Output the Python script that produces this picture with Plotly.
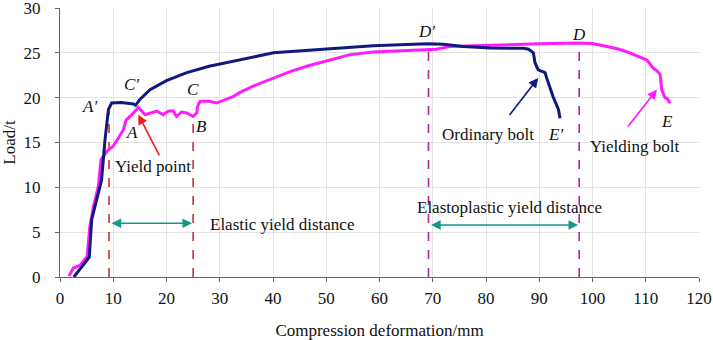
import plotly.graph_objects as go

# Ordinary bolt (navy)
ord_x = [2.6, 4.7, 5.5, 5.95, 6.9, 7.8, 8.45, 9.1, 9.7, 11.5, 13.8, 14.2, 15.0, 16.9, 20.0, 23.8, 28.0, 33.8, 35.7, 40.1, 49.4, 58.8, 68.9, 72.0, 75.7, 80.8, 87.0, 88.0, 88.9, 89.2, 89.8, 91.1, 91.4, 92.6, 93.6, 93.9]
ord_y = [0.0, 1.5, 2.2, 6.4, 8.6, 10.8, 15.3, 18.7, 19.4, 19.45, 19.3, 19.15, 19.8, 20.9, 21.9, 22.8, 23.5, 24.2, 24.5, 25.0, 25.4, 25.8, 26.0, 25.95, 25.7, 25.55, 25.5, 25.4, 25.0, 23.9, 23.1, 22.8, 22.2, 20.1, 18.7, 17.7]

# Yielding bolt (magenta)
yld_x = [1.7, 2.5, 3.75, 5.1, 5.6, 6.3, 7.2, 7.7, 8.8, 10.0, 11.9, 12.4, 13.5, 14.7, 16.0, 17.0, 18.2, 19.4, 20.4, 21.3, 21.9, 22.8, 23.8, 25.0, 25.7, 25.8, 26.3, 28.0, 29.4, 32.5, 33.8, 36.3, 40.1, 43.2, 46.3, 50.7, 54.5, 58.8, 65.1, 70.7, 73.2, 82.6, 85.1, 90.0, 97.3, 100.0, 102.7, 105.0, 107.0, 110.2, 111.4, 112.1, 112.7, 113.0, 113.6, 114.0, 114.6]
yld_y = [0.1, 1.0, 1.3, 2.3, 5.6, 7.9, 10.1, 13.1, 14.0, 14.6, 16.4, 17.5, 18.1, 18.9, 18.1, 18.3, 18.5, 18.1, 18.5, 18.5, 17.9, 18.4, 18.3, 17.9, 18.3, 19.0, 19.6, 19.6, 19.4, 20.1, 20.6, 21.3, 22.2, 22.9, 23.5, 24.2, 24.8, 25.1, 25.25, 25.4, 25.7, 25.9, 25.9, 26.0, 26.1, 26.05, 25.7, 25.4, 25.0, 24.2, 23.3, 23.0, 22.6, 20.9, 20.0, 19.9, 19.4]

# Reference lines
elastic_x = [9.2, 25.0]
elastic_top = [18.7, 18.1]
plastic_x = [69.2, 97.5]
plastic_top = [26.0, 26.1]

x_ticks = [0, 10, 20, 30, 40, 50, 60, 70, 80, 90, 100, 110, 120]
y_ticks = [0, 5, 10, 15, 20, 25, 30]

FONT = "Liberation Serif, Times New Roman, serif"
FS = 17
NAVY = "#0f1a7c"
MAG = "#ff1aff"
RED = "#c8323a"
PURP = "#b0288e"
TEAL = "#14978a"

fig = go.Figure()

for xv, top in zip(elastic_x, elastic_top):
    fig.add_trace(go.Scatter(x=[xv, xv], y=[0, top], mode="lines",
                             line=dict(color=RED, width=1.6, dash="dash"), showlegend=False, hoverinfo="skip"))
for xv, top in zip(plastic_x, plastic_top):
    fig.add_trace(go.Scatter(x=[xv, xv], y=[0, top], mode="lines",
                             line=dict(color=PURP, width=1.6, dash="dash"), showlegend=False, hoverinfo="skip"))

fig.add_trace(go.Scatter(x=yld_x, y=yld_y, mode="lines", line=dict(color=MAG, width=3), showlegend=False))
fig.add_trace(go.Scatter(x=ord_x, y=ord_y, mode="lines", line=dict(color=NAVY, width=3), showlegend=False))

ann = []
def label(text, x, y, italic=True, size=FS, xanchor="center"):
    t = f"<i>{text}</i>" if italic else text
    ann.append(dict(x=x, y=y, text=t, showarrow=False, xanchor=xanchor, yanchor="middle",
                    font=dict(family=FONT, size=size, color="#111")))

label("A\u2032", 5.6, 19.0)
label("C\u2032", 13.5, 21.5)
label("C", 25.0, 20.9)
label("A", 13.5, 16.1)
label("B", 26.6, 16.8)
label("D\u2032", 68.8, 27.4)
label("D", 97.5, 27.0)
label("E\u2032", 93.0, 15.9)
label("E", 113.9, 17.3)
label("Yield point", 17.5, 12.3, italic=False)
label("Ordinary bolt", 80.4, 15.9, italic=False)
label("Yielding bolt", 108.0, 14.6, italic=False)
label("Elastic yield distance", 27.8, 5.8, italic=False, xanchor="left")
label("Elastoplastic yield distance", 84.5, 7.7, italic=False)

def arrow(x0, y0, x1, y1, color, side="end"):
    ann.append(dict(x=x1, y=y1, ax=x0, ay=y0, xref="x", yref="y", axref="x", ayref="y",
                    text="", showarrow=True, arrowhead=2, arrowsize=1.2, arrowwidth=1.6,
                    arrowcolor=color, arrowside=side))

arrow(18.8, 13.4, 14.7, 18.1, "#ee1c1c")
arrow(84.2, 17.9, 89.8, 22.2, NAVY)
arrow(106.4, 16.6, 112.1, 20.9, MAG)
arrow(9.4, 6.0, 24.8, 6.0, TEAL, "end+start")
arrow(69.4, 5.8, 97.3, 5.8, TEAL, "end+start")

fig.update_layout(
    width=713, height=340,
    margin=dict(l=60, r=14, t=8, b=63),
    paper_bgcolor="white", plot_bgcolor="white",
    font=dict(family=FONT, size=FS, color="#111"),
    annotations=ann,
    xaxis=dict(range=[0, 120], tickvals=x_ticks, showgrid=True, gridcolor="#e3e3e3", gridwidth=1,
               showline=True, linecolor="#666", linewidth=1, ticks="outside", ticklen=4, tickcolor="#666",
               zeroline=False, automargin=False, ticklabeloverflow="allow", ticklabelstandoff=2,
               title=dict(text="Compression deformation/mm", standoff=20, font=dict(family=FONT, size=FS))),
    yaxis=dict(range=[0, 30], tickvals=y_ticks, showgrid=True, gridcolor="#e3e3e3", gridwidth=1,
               showline=True, linecolor="#666", linewidth=1, ticks="outside", ticklen=4, tickcolor="#666",
               zeroline=False, automargin=False, ticklabeloverflow="allow", ticklabelstandoff=11,
               title=dict(text="Load/t", standoff=10, font=dict(family=FONT, size=FS))),
)

fig.write_html("out.html", config={"displayModeBar": False},
               post_script="document.body.style.margin='0';document.body.style.padding='0';")
